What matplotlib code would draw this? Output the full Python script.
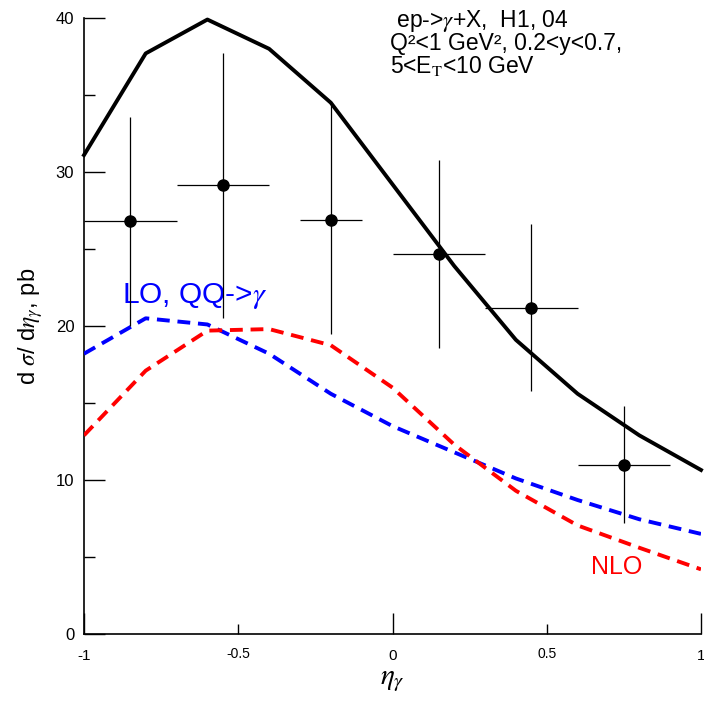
import numpy as np
import matplotlib
matplotlib.use("Agg")
import matplotlib.pyplot as plt

plt.rcParams['font.family'] = ['Liberation Sans', 'DejaVu Sans']
plt.rcParams['mathtext.fontset'] = 'stix'

# H1 data points
eta_data = [-0.85, -0.55, -0.2, 0.15, 0.45, 0.75]
eta_lo = [-1.0, -0.7, -0.3, 0.0, 0.3, 0.6]
eta_hi = [-0.7, -0.4, -0.1, 0.3, 0.6, 0.9]
xsec_data = [26.85, 29.15, 26.9, 24.7, 21.2, 11.0]
xsec_top = [33.6, 37.75, 34.35, 30.8, 26.6, 14.8]
xsec_bot = [20.0, 20.5, 19.5, 18.6, 15.8, 7.2]

# theory curves
eta_th = [-1.0, -0.8, -0.6, -0.4, -0.2, 0.0, 0.2, 0.4, 0.6, 0.8, 1.0]
solid_th = [31.1, 37.7, 39.9, 38.0, 34.5, 29.2, 23.9, 19.1, 15.6, 12.9, 10.65]
lo_th = [18.2, 20.5, 20.1, 18.2, 15.6, 13.5, 11.8, 10.1, 8.7, 7.45, 6.5]
nlo_th = [12.9, 17.1, 19.7, 19.8, 18.75, 16.0, 12.3, 9.3, 7.05, 5.6, 4.2]


def main():
    fig = plt.figure(figsize=(7.04, 7.03), dpi=100)
    ax = fig.add_axes([84 / 704, 69 / 703, 617 / 704, 616 / 703])

    ax.plot(eta_th, solid_th, color='black', lw=2.8, zorder=3, clip_on=False)
    ax.plot(eta_th, lo_th, color='#0000ff', lw=2.8, dashes=(3.3, 2.0), zorder=3)
    ax.plot(eta_th, nlo_th, color='#ff0000', lw=2.8, dashes=(3.3, 2.0), zorder=3)

    x = np.array(eta_data)
    y = np.array(xsec_data)
    xerr = [x - np.array(eta_lo), np.array(eta_hi) - x]
    yerr = [y - np.array(xsec_bot), np.array(xsec_top) - y]
    ax.errorbar(x, y, xerr=xerr, yerr=yerr, fmt='o', color='black', ms=8,
                elinewidth=0.9, capsize=0, zorder=4)

    ax.set_xlim(-1, 1)
    ax.set_ylim(0, 40)
    for s in ['top', 'right']:
        ax.spines[s].set_visible(False)
    for s in ['left', 'bottom']:
        ax.spines[s].set_linewidth(1.2)

    ax.set_yticks([0, 10, 20, 30, 40])
    ax.set_yticks([5, 15, 25, 35], minor=True)
    ax.set_xticks([-1, 0, 1])
    ax.set_xticklabels(['-1', '0', '1'])
    ax.set_xticks([-0.5, 0.5], minor=True)
    ax.set_xticklabels(['-0.5', '0.5'], minor=True)

    ax.tick_params(axis='y', which='major', direction='in', length=15, width=1,
                   labelsize=12, pad=7)
    ax.tick_params(axis='y', which='minor', direction='in', length=8, width=1)
    ax.tick_params(axis='x', which='major', direction='in', length=15, width=1,
                   labelsize=11, pad=11)
    ax.tick_params(axis='x', which='minor', direction='in', length=7.5, width=1,
                   labelsize=10, pad=9)

    ax.set_xlabel(r'$\eta_\gamma$', fontsize=21)
    ax.xaxis.set_label_coords(0.5, -0.052)
    ax.set_ylabel(r'd $\sigma$/ d$\eta_\gamma$, pb', fontsize=17)
    ax.yaxis.set_label_coords(-0.063, 0.5)

    ax.text(-0.008, 39.42, r' ep->$\gamma$+X,  H1, 04', fontsize=16.5, va='baseline')
    ax.text(-0.008, 37.92, 'Q²<1 GeV², 0.2<y<0.7,', fontsize=16.5, va='baseline')
    ax.text(-0.008, 36.43, r'5<E$_{\mathrm{T}}$<10 GeV', fontsize=16.5, va='baseline')

    ax.text(-0.877, 21.47, r'LO, QQ->$\gamma$', color='#0000ff', fontsize=21.5,
            va='baseline')
    ax.text(0.643, 3.9, 'NLO', color='#ff0000', fontsize=18, va='baseline')

    fig.savefig('out.png', dpi=100)


if __name__ == "__main__":
    main()
